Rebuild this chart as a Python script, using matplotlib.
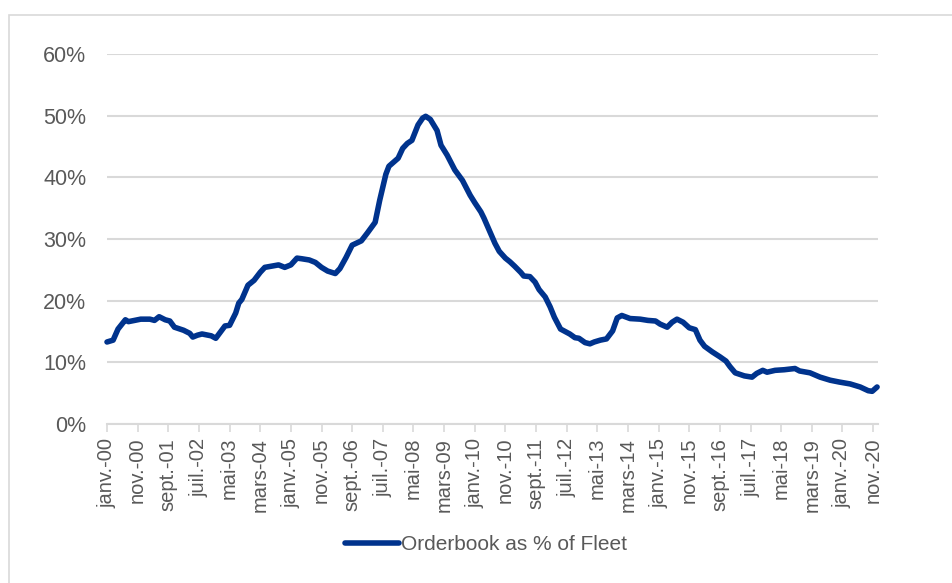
import matplotlib.pyplot as plt
from matplotlib.patches import Rectangle

# months since janv.-2000 and orderbook share (% of fleet)
months = [0, 2, 3.6, 6, 7, 9, 11, 14, 15.5, 17, 19, 20.5, 22, 25, 27, 28, 29.5, 31,
          34, 35.5, 37, 38.5, 40, 42, 43, 44, 46, 48, 50, 51.5, 55, 56, 58, 60, 62,
          63.5, 66, 68, 70, 72, 74.5, 76, 78, 80, 83, 85, 87.5, 89, 91, 92, 95,
          96.5, 98, 99.5, 101.5, 103, 104, 105.5, 107.7, 109, 111, 113.5, 116,
          118.5, 120, 122, 123, 125, 126.6, 128, 130, 131.5, 133, 135, 136, 138,
          139.7, 141, 143, 144.6, 146, 148, 149.5, 151, 152.7, 154, 156, 157.6,
          159, 161, 163, 165, 166.5, 168, 170.7, 174, 176.5, 179, 180.5, 182.8,
          184.4, 186, 188, 190, 192, 193.5, 195, 197.5, 200, 202, 203.3, 205, 208,
          210.5, 212, 214, 215.4, 218, 221, 224.5, 226, 229.4, 232.7, 236, 239,
          242.5, 245.8, 248.4, 249.7, 251.3]
orderbook = [13.3, 13.6, 15.4, 16.9, 16.6, 16.8, 17.0, 17.0, 16.8, 17.4, 16.9, 16.7,
             15.7, 15.2, 14.7, 14.1, 14.4, 14.6, 14.3, 13.9, 14.9, 15.9, 16.0, 18.0,
             19.6, 20.2, 22.5, 23.3, 24.6, 25.4, 25.7, 25.8, 25.4, 25.8, 26.9,
             26.8, 26.6, 26.2, 25.4, 24.8, 24.4, 25.2, 27.0, 29.0, 29.7, 31.0, 32.7,
             36.3, 40.5, 41.8, 43.1, 44.7, 45.5, 46.0, 48.5, 49.6, 49.9, 49.4, 47.6,
             45.2, 43.6, 41.2, 39.5, 37.1, 35.9, 34.4, 33.4, 31.1, 29.3, 28.0, 26.9,
             26.3, 25.6, 24.6, 24.0, 23.9, 23.0, 21.8, 20.6, 19.0, 17.3, 15.4, 15.0,
             14.6, 14.0, 13.9, 13.2, 13.0, 13.3, 13.6, 13.8, 15.1, 17.2, 17.6, 17.1,
             17.0, 16.8, 16.7, 16.2, 15.7, 16.5, 17.0, 16.5, 15.6, 15.3, 13.6, 12.6,
             11.7, 10.9, 10.2, 9.3, 8.3, 7.8, 7.6, 8.2, 8.7, 8.4, 8.7, 8.8, 9.0,
             8.6, 8.3, 7.6, 7.1, 6.8, 6.5, 6.0, 5.4, 5.3, 6.0]

tick_pos = list(range(0, 251, 10))
tick_labels = ['janv.-00', 'nov.-00', 'sept.-01', 'juil.-02', 'mai-03', 'mars-04',
               'janv.-05', 'nov.-05', 'sept.-06', 'juil.-07', 'mai-08', 'mars-09',
               'janv.-10', 'nov.-10', 'sept.-11', 'juil.-12', 'mai-13', 'mars-14',
               'janv.-15', 'nov.-15', 'sept.-16', 'juil.-17', 'mai-18', 'mars-19',
               'janv.-20', 'nov.-20']
y_ticks = [0, 10, 20, 30, 40, 50, 60]

plt.rcParams['font.family'] = ['Liberation Sans', 'DejaVu Sans']
txt = '#595959'
navy = '#00338D'

fig = plt.figure(figsize=(9.52, 5.83), dpi=100)
fig.patches.append(Rectangle((9 / 952, -0.05), 1.1, 1 - 14.5 / 583 + 0.05,
                             transform=fig.transFigure, fill=False,
                             edgecolor='#d9d9d9', linewidth=1.2))
ax = fig.add_axes([107 / 952, 1 - 424 / 583, 771 / 952, 370 / 583])

ax.plot(months, orderbook, color=navy, linewidth=4, solid_joinstyle='round',
        solid_capstyle='round', label='Orderbook as % of Fleet', clip_on=False)

ax.set_xlim(0, 251.6)
ax.set_ylim(0, 60)
ax.set_yticks(y_ticks)
ax.set_yticklabels([f'{v}%' for v in y_ticks])
ax.set_xticks(tick_pos)
ax.set_xticklabels(tick_labels, rotation=90)
ax.grid(axis='y', color='#d9d9d9', linewidth=1.5)
ax.set_axisbelow(True)
for s in ['top', 'right', 'left']:
    ax.spines[s].set_visible(False)
ax.spines['bottom'].set_color('#d9d9d9')
ax.spines['bottom'].set_linewidth(1.5)
ax.tick_params(axis='x', colors='#d9d9d9', length=6, width=1.2, pad=4,
               labelcolor=txt, labelsize=14.5)
ax.tick_params(axis='y', length=0, pad=15, labelcolor=txt, labelsize=15.5)

leg = ax.legend(loc='center', bbox_to_anchor=(486 / 952, 1 - 545 / 583),
                bbox_transform=fig.transFigure, frameon=False, fontsize=15,
                handlelength=2.6, handletextpad=0.1)
for t in leg.get_texts():
    t.set_color(txt)

fig.savefig('out.png', dpi=100)
